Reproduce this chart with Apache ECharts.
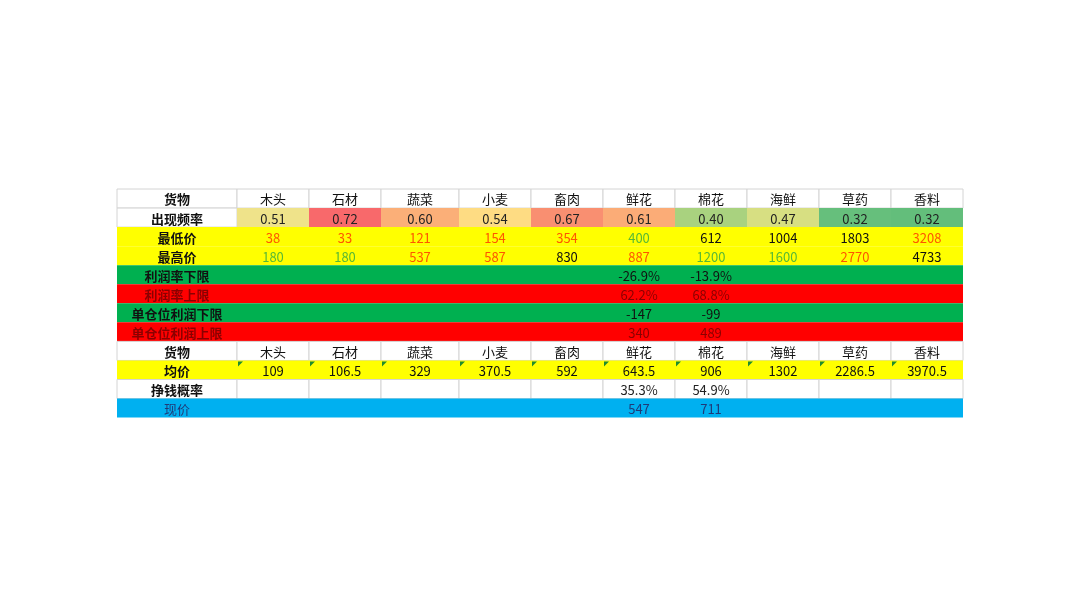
<!DOCTYPE html>
<html>
<head>
<meta charset="utf-8">
<script src="https://cdn.jsdelivr.net/npm/echarts@6/dist/echarts.min.js"></script>
<style>html,body{margin:0;padding:0;background:#fff}#main{width:1080px;height:606px}</style>
</head>
<body>
<div id="main"></div>
<script>
var goods = ['木头','石材','蔬菜','小麦','畜肉','鲜花','棉花','海鲜','草药','香料'];
var freq = [0.51, 0.72, 0.60, 0.54, 0.67, 0.61, 0.40, 0.47, 0.32, 0.32];
var lowPrice = [38, 33, 121, 154, 354, 400, 612, 1004, 1803, 3208];
var highPrice = [180, 180, 537, 587, 830, 887, 1200, 1600, 2770, 4733];
var rateLow = [null, null, null, null, null, -26.9, -13.9, null, null, null];
var rateHigh = [null, null, null, null, null, 62.2, 68.8, null, null, null];
var unitLow = [null, null, null, null, null, -147, -99, null, null, null];
var unitHigh = [null, null, null, null, null, 340, 489, null, null, null];
var avgPrice = [109, 106.5, 329, 370.5, 592, 643.5, 906, 1302, 2286.5, 3970.5];
var winRate = [null, null, null, null, null, 35.3, 54.9, null, null, null];
var curPrice = [null, null, null, null, null, 547, 711, null, null, null];

// layout (spreadsheet column widths)
var colW = [120, 72, 72, 78, 72, 72, 72, 72, 72, 72, 72];
var colX = [0];
colW.forEach(function (w) { colX.push(colX[colX.length - 1] + w); });

var freqBg = ['#EFE38A','#F8696B','#FBAF78','#FEDC83','#F98F71','#FBAC77','#A9D27F','#D7DF82','#66BF7C','#63BE7B'];
var OR = '#FF5500', GR = '#58B935', BK = '#111';
var lowColor = [OR, OR, OR, OR, OR, GR, BK, BK, BK, OR];
var highColor = [GR, GR, OR, OR, BK, OR, GR, GR, OR, BK];

var YEL = '#FFFF00', GRN = '#00B050', RED = '#FF0000', BLU = '#00B0F0';
var cells = [];
function add(row, col, text, bg, color, bold, tri) {
  cells.push({ value: [row, col], text: text == null ? '' : String(text), bg: bg, color: color || BK, bold: bold, tri: tri });
}
function pct(v) { return v == null ? '' : v.toFixed(1) + '%'; }
function rowOf(row, label, vals, bg, color, fmt, lblColor, bold, colors, tri) {
  add(row, 0, label, bg, lblColor || BK, bold !== false);
  vals.forEach(function (v, i) {
    add(row, i + 1, fmt ? fmt(v) : v, Array.isArray(bg) ? bg[i] : bg, colors ? colors[i] : color, false, tri);
  });
}
rowOf(0, '货物', goods, '#fff', BK);
add(1, 0, '出现频率', '#fff', BK, true);
freq.forEach(function (v, i) { add(1, i + 1, v.toFixed(2), freqBg[i], '#222', false); });
rowOf(2, '最低价', lowPrice, YEL, BK, null, BK, true, lowColor);
rowOf(3, '最高价', highPrice, YEL, BK, null, BK, true, highColor);
rowOf(4, '利润率下限', rateLow, GRN, '#111', pct);
rowOf(5, '利润率上限', rateHigh, RED, '#8B0000', pct, '#8B0000');
rowOf(6, '单仓位利润下限', unitLow, GRN, '#111');
rowOf(7, '单仓位利润上限', unitHigh, RED, '#8B0000', null, '#8B0000');
rowOf(8, '货物', goods, '#fff', BK);
rowOf(9, '均价', avgPrice, YEL, BK, null, BK, true, null, true);
rowOf(10, '挣钱概率', winRate, '#fff', '#222', pct);
rowOf(11, '现价', curPrice, BLU, '#1F3A78', null, '#1F3A78', false);

var chart = echarts.init(document.getElementById('main'));
chart.setOption({
  animation: false,
  grid: { left: 117, top: 189, width: colX[colX.length - 1], height: 228.6 },
  xAxis: { type: 'value', min: 0, max: colX[colX.length - 1], show: false },
  yAxis: { type: 'value', min: 0, max: 12, inverse: true, show: false },
  series: [{
    type: 'custom',
    data: cells,
    encode: { x: 1, y: 0 },
    renderItem: function (params, api) {
      var c = cells[params.dataIndex];
      var r = api.value(0), k = api.value(1);
      var p0 = api.coord([colX[k], r]), p1 = api.coord([colX[k + 1], r + 1]);
      var w = p1[0] - p0[0], h = p1[1] - p0[1];
      var white = c.bg === '#fff';
      var ch = [{
        type: 'rect',
        shape: { x: p0[0], y: p0[1], width: w, height: h },
        style: { fill: c.bg, stroke: white ? '#D4D4D4' : null, lineWidth: white ? 1 : 0 }
      }, {
        type: 'text',
        style: {
          x: p0[0] + w / 2, y: p0[1] + h / 2 + 1, text: c.text,
          align: 'center', verticalAlign: 'middle',
          fill: c.color, font: (c.bold ? 'bold ' : '') + '13px "Noto Sans CJK SC", sans-serif'
        }
      }];
      if (c.tri) {
        ch.push({ type: 'polygon', shape: { points: [[p0[0] + 1, p0[1] + 1], [p0[0] + 6, p0[1] + 1], [p0[0] + 1, p0[1] + 6]] }, style: { fill: '#1E8C2E' } });
      }
      return { type: 'group', children: ch };
    }
  }]
});
</script>
</body>
</html>
